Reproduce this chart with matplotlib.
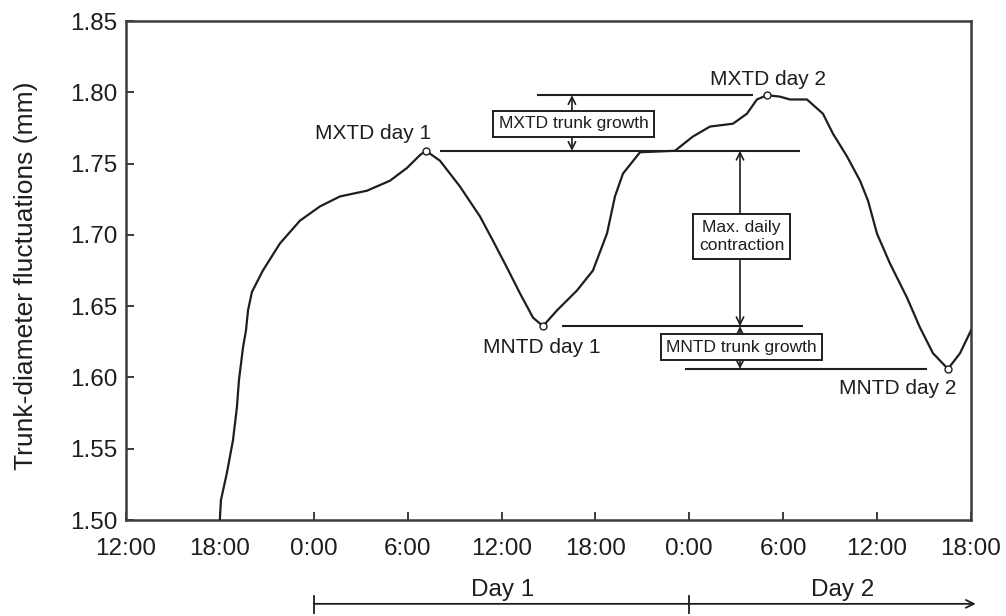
import matplotlib
matplotlib.use("Agg")
import matplotlib.pyplot as plt

plt.rcParams['font.family'] = ['Liberation Sans', 'DejaVu Sans']

# Time axis in hours, counted from 12:00 on the day before Day 1
hours = [6.0, 6.07, 6.45, 6.84, 7.09, 7.22, 7.48, 7.67, 7.80, 8.05,
         8.75, 9.84, 11.12, 12.40, 13.68, 15.40, 16.87, 17.96, 18.79, 19.17,
         20.07, 21.34, 22.62, 23.45, 24.35, 25.18, 26.01, 26.65, 27.54, 28.82,
         29.84, 30.74, 31.25, 31.76, 32.85, 35.08, 36.23, 37.32, 38.79, 39.68,
         40.32, 40.96, 41.79, 42.43, 43.52, 44.54, 45.18, 46.08, 46.91, 47.42,
         47.99, 48.82, 49.91, 50.74, 51.57, 52.53, 53.30, 54.0]
diameter = [1.500, 1.514, 1.533, 1.556, 1.579, 1.598, 1.621, 1.633, 1.647, 1.660,
            1.675, 1.694, 1.710, 1.720, 1.727, 1.731, 1.738, 1.747, 1.756, 1.759,
            1.752, 1.734, 1.713, 1.696, 1.677, 1.659, 1.642, 1.636, 1.647, 1.661,
            1.675, 1.701, 1.727, 1.743, 1.758, 1.759, 1.769, 1.776, 1.778, 1.785,
            1.795, 1.798, 1.797, 1.795, 1.795, 1.785, 1.771, 1.755, 1.738, 1.724,
            1.701, 1.680, 1.656, 1.635, 1.617, 1.606, 1.617, 1.633]

# Daily extremes
mxtd_day1 = (19.17, 1.759)
mntd_day1 = (26.65, 1.636)
mxtd_day2 = (40.96, 1.798)
mntd_day2 = (52.53, 1.606)

xtick_hours = [0, 6, 12, 18, 24, 30, 36, 42, 48, 54]
xtick_labels = ['12:00', '18:00', '0:00', '6:00', '12:00', '18:00',
                '0:00', '6:00', '12:00', '18:00']
ytick_values = [1.50, 1.55, 1.60, 1.65, 1.70, 1.75, 1.80, 1.85]

ink = '#1e1e1e'
frame = '#3c3c3c'

fig = plt.figure(figsize=(10.06, 6.16), dpi=100)
ax = fig.add_axes([0.1252, 0.1558, 0.840, 0.810])

ax.plot(hours, diameter, color=ink, lw=1.6, zorder=3)
for hx, vy in (mxtd_day1, mntd_day1, mxtd_day2, mntd_day2):
    ax.plot(hx, vy, marker='o', ms=5, mfc='white', mec=ink, mew=1.0, zorder=4)

ax.set_xlim(0, 54)
ax.set_ylim(1.50, 1.85)
ax.set_xticks(xtick_hours)
ax.set_xticklabels(xtick_labels)
ax.set_yticks(ytick_values)
ax.set_yticklabels([f'{v:.2f}' for v in ytick_values])
ax.tick_params(axis='both', direction='in', length=6, width=1.4, color=frame,
               labelsize=17.5, labelcolor=ink)
ax.tick_params(axis='x', pad=13)
ax.tick_params(axis='y', pad=6)
for side in ('left', 'right', 'top', 'bottom'):
    ax.spines[side].set_color(frame)
    ax.spines[side].set_linewidth(1.8)

ax.set_ylabel('Trunk-diameter fluctuations (mm)', fontsize=19, color=ink)
ax.yaxis.set_label_coords(-0.104, 0.49)

# Extreme labels
lab = dict(fontsize=15, color=ink, ha='center', va='center')
ax.text(15.8, 1.7714, 'MXTD day 1', **lab)
ax.text(26.6, 1.6207, 'MNTD day 1', **lab)
ax.text(41.0, 1.8093, 'MXTD day 2', **lab)
ax.text(49.34, 1.5926, 'MNTD day 2', **lab)

# Reference levels
ax.hlines(mxtd_day2[1], 26.27, 40.07, color=ink, lw=1.5, zorder=2)
ax.hlines(mxtd_day1[1], 20.07, 43.07, color=ink, lw=1.5, zorder=2)
ax.hlines(mntd_day1[1], 27.86, 43.26, color=ink, lw=1.5, zorder=2)
ax.hlines(mntd_day2[1], 35.72, 51.19, color=ink, lw=1.5, zorder=2)

arrow = dict(arrowstyle='->', lw=1.2, color=ink, shrinkA=0, shrinkB=0,
             mutation_scale=13)
box = dict(boxstyle='square,pad=0.32', fc='white', ec=ink, lw=1.4)


def measure(x, y_mid, y_targets, text):
    for yt in y_targets:
        ax.annotate('', xy=(x, yt), xytext=(x, y_mid), arrowprops=arrow, zorder=2)
    ax.text(x + 0.1, y_mid, text, fontsize=12.5, color=ink, ha='center',
            va='center', bbox=box, zorder=5, linespacing=1.3)


measure(28.5, 1.7778, [mxtd_day2[1], mxtd_day1[1]], 'MXTD trunk growth')
measure(39.24, 1.699, [mxtd_day1[1], mntd_day1[1]], 'Max. daily\ncontraction')
measure(39.24, 1.6213, [mntd_day1[1], mntd_day2[1]], 'MNTD trunk growth')

# Day brackets below the time axis
tr = ax.get_xaxis_transform()
ax.annotate('', xy=(54.3, -0.168), xytext=(12, -0.168), xycoords=tr,
            textcoords=tr, annotation_clip=False,
            arrowprops=dict(arrowstyle='->', lw=1.3, color=ink, shrinkA=0,
                            shrinkB=0, mutation_scale=14))
for hx in (12, 36):
    ax.plot([hx, hx], [-0.152, -0.186], transform=tr, color=ink, lw=1.3,
            clip_on=False)
ax.text(24.1, -0.140, 'Day 1', transform=tr, fontsize=17.5, color=ink,
        ha='center', va='center')
ax.text(45.8, -0.140, 'Day 2', transform=tr, fontsize=17.5, color=ink,
        ha='center', va='center')

fig.savefig('out.png', dpi=100, facecolor='white')
